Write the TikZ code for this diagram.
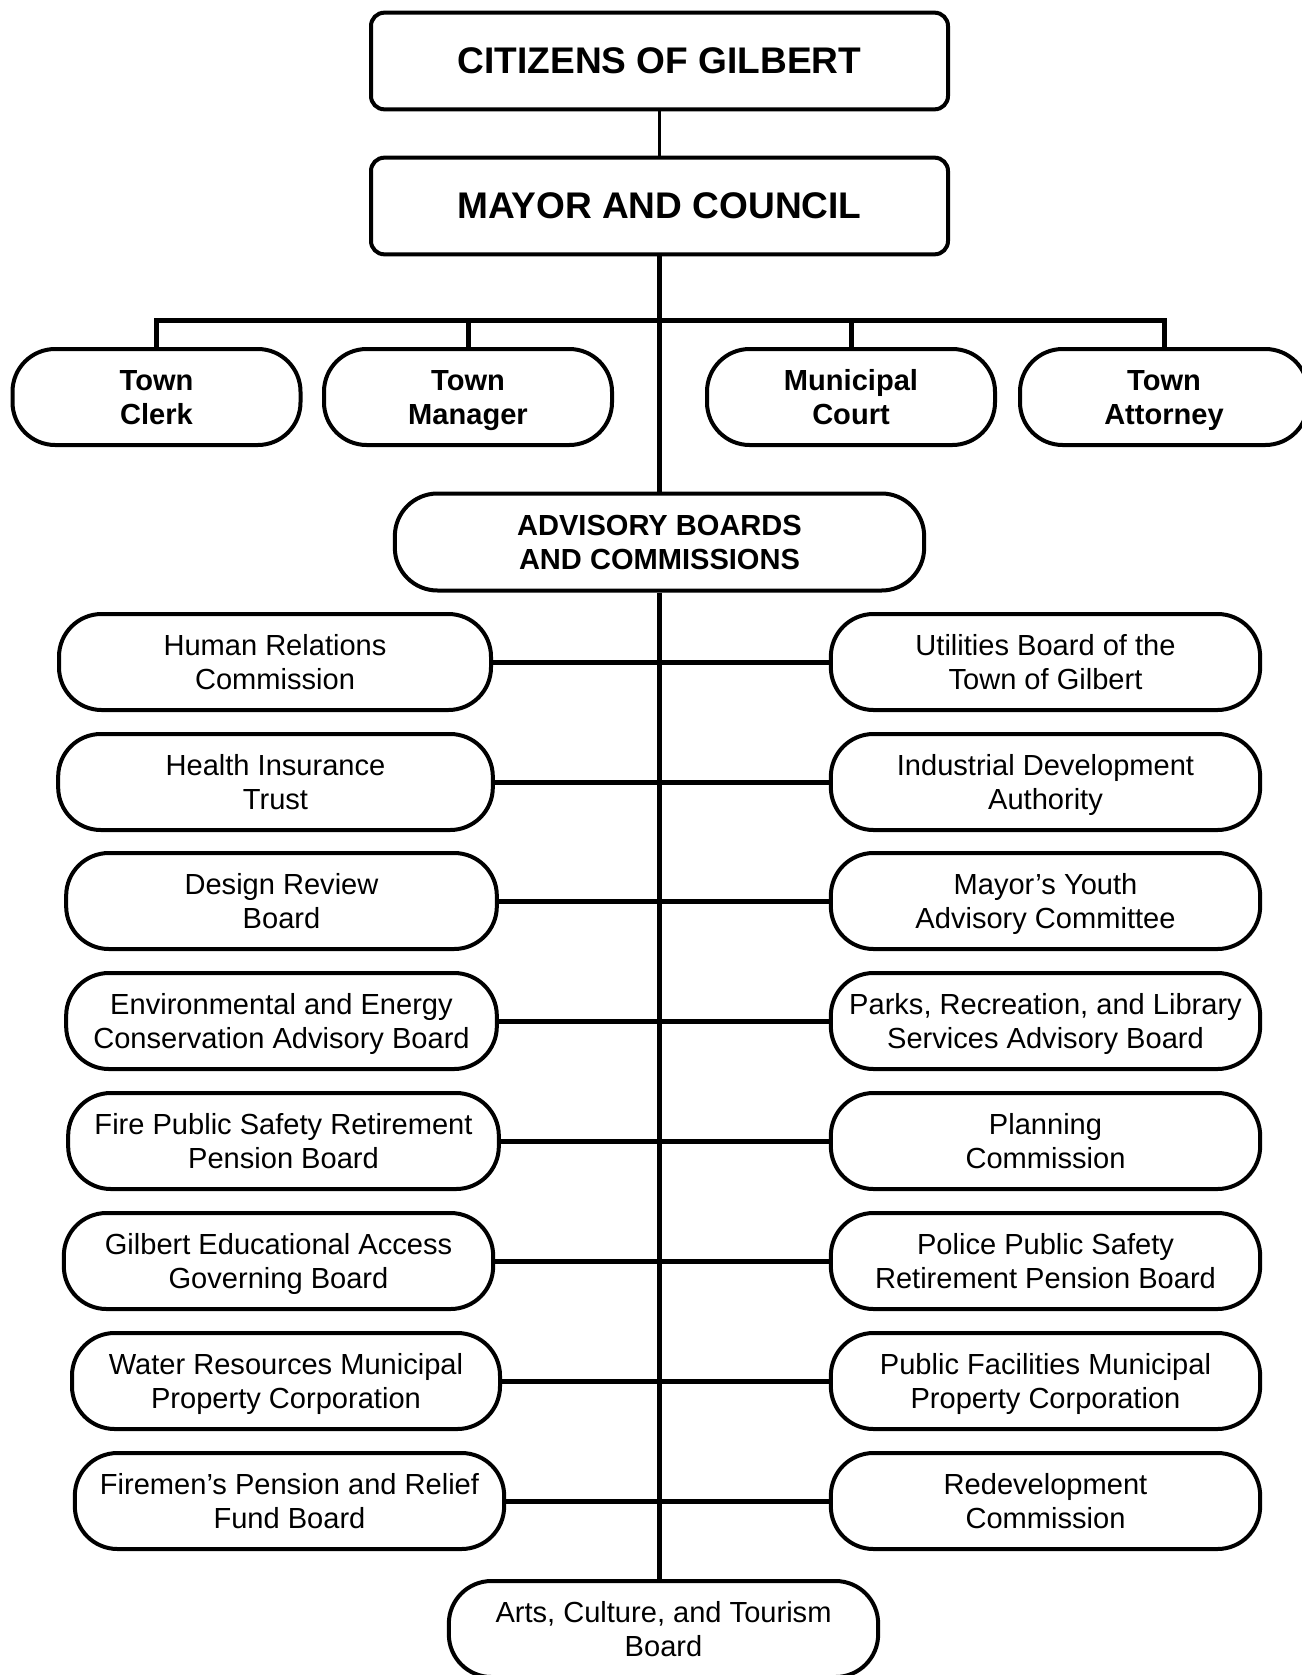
\documentclass[tikz,border=0pt]{standalone}
\usepackage{fontspec}
\setmainfont{Liberation Sans}
\newcommand\ld[1]{\raisebox{0pt}[\height][0pt]{#1}}
\begin{document}
\begin{tikzpicture}[x=0.75pt,y=-0.75pt,
  box/.style={draw, line width=3pt, fill=white, align=center, inner sep=0pt, minimum height=72pt},
  head/.style={box, rounded corners=10pt, minimum width=432.75pt, minimum height=72.5pt, font=\bfseries\fontsize{27.8}{33}\selectfont},
  pill/.style={box, rounded corners=32pt, font=\fontsize{21.8}{25.5}\selectfont, execute at begin node={\rule{0pt}{17.6pt}}},
  bpill/.style={pill, font=\bfseries\fontsize{21.8}{25.5}\selectfont},
  conn/.style={line width=3.75pt, line join=miter},
  thin/.style={line width=1.8pt}]
\useasboundingbox (0,0) rectangle (1302,1675);

% top
\node[head] (cit) at (659.5,61) {CITIZENS OF GILBERT};
\node[head] (may) at (659.5,206) {MAYOR AND COUNCIL};

% officers
\node[bpill, minimum width=216pt] (clerk) at (156.5,397) {Town\\\ld{Clerk}};
\node[bpill, minimum width=216pt] (mgr) at (468,397) {Town\\\ld{Manager}};
\node[bpill, minimum width=216pt] (court) at (851,397) {Municipal\\\ld{Court}};
\node[bpill, minimum width=216pt] (atty) at (1164,397) {Town\\\ld{Attorney}};

% advisory
\node[bpill, minimum width=397pt, minimum height=72.75pt] (adv) at (659.5,542) {ADVISORY BOARDS\\\ld{AND COMMISSIONS}};

% left column
\node[pill, minimum width=324pt] (L1) at (275,662) {Human Relations\\\ld{Commission}};
\node[pill, minimum width=326pt] (L2) at (275.5,782) {Health Insurance\\\ld{Trust}};
\node[pill, minimum width=323pt] (L3) at (281.5,901) {Design Review\\\ld{Board}};
\node[pill, minimum width=323pt] (L4) at (281.5,1021) {Environmental and Energy\\\ld{Conservation Advisory Board}};
\node[pill, minimum width=323pt] (L5) at (283.5,1141) {Fire Public Safety Retirement\\\ld{Pension Board}};
\node[pill, minimum width=322pt] (L6) at (278.5,1261) {Gilbert Educational Access\\\ld{Governing Board}};
\node[pill, minimum width=321pt] (L7) at (286,1381) {Water Resources Municipal\\\ld{Property Corporation}};
\node[pill, minimum width=322pt] (L8) at (289.5,1501) {Firemen’s Pension and Relief\\\ld{Fund Board}};

% right column
\node[pill, minimum width=322pt] (R1) at (1045.5,662) {Utilities Board of the\\\ld{Town of Gilbert}};
\node[pill, minimum width=322pt] (R2) at (1045.5,782) {Industrial Development\\\ld{Authority}};
\node[pill, minimum width=322pt] (R3) at (1045.5,901) {Mayor’s Youth\\\ld{Advisory Committee}};
\node[pill, minimum width=322pt] (R4) at (1045.5,1021) {Parks, Recreation, and Library\\\ld{Services Advisory Board}};
\node[pill, minimum width=322pt] (R5) at (1045.5,1141) {Planning\\\ld{Commission}};
\node[pill, minimum width=322pt] (R6) at (1045.5,1261) {Police Public Safety\\\ld{Retirement Pension Board}};
\node[pill, minimum width=322pt] (R7) at (1045.5,1381) {Public Facilities Municipal\\\ld{Property Corporation}};
\node[pill, minimum width=322pt] (R8) at (1045.5,1501) {Redevelopment\\\ld{Commission}};

% bottom
\node[pill, minimum width=322pt] (arts) at (663.5,1629) {Arts, Culture, and Tourism\\\ld{Board}};

% connectors
\draw[thin] (cit.south) -- (may.north);
\draw[conn] (may.south) -- (adv.north);
\draw[conn] (adv.south) -- (adv.south |- arts.north);
\draw[conn] (clerk.north) -- ++(0,-27) coordinate (barL) -| (atty.north);
\draw[conn] (mgr.north) -- (mgr.north |- barL);
\draw[conn] (court.north) -- (court.north |- barL);
\foreach \i in {1,...,8} {
  \draw[conn] (L\i.east) -- (R\i.west);
}
\end{tikzpicture}
\end{document}
